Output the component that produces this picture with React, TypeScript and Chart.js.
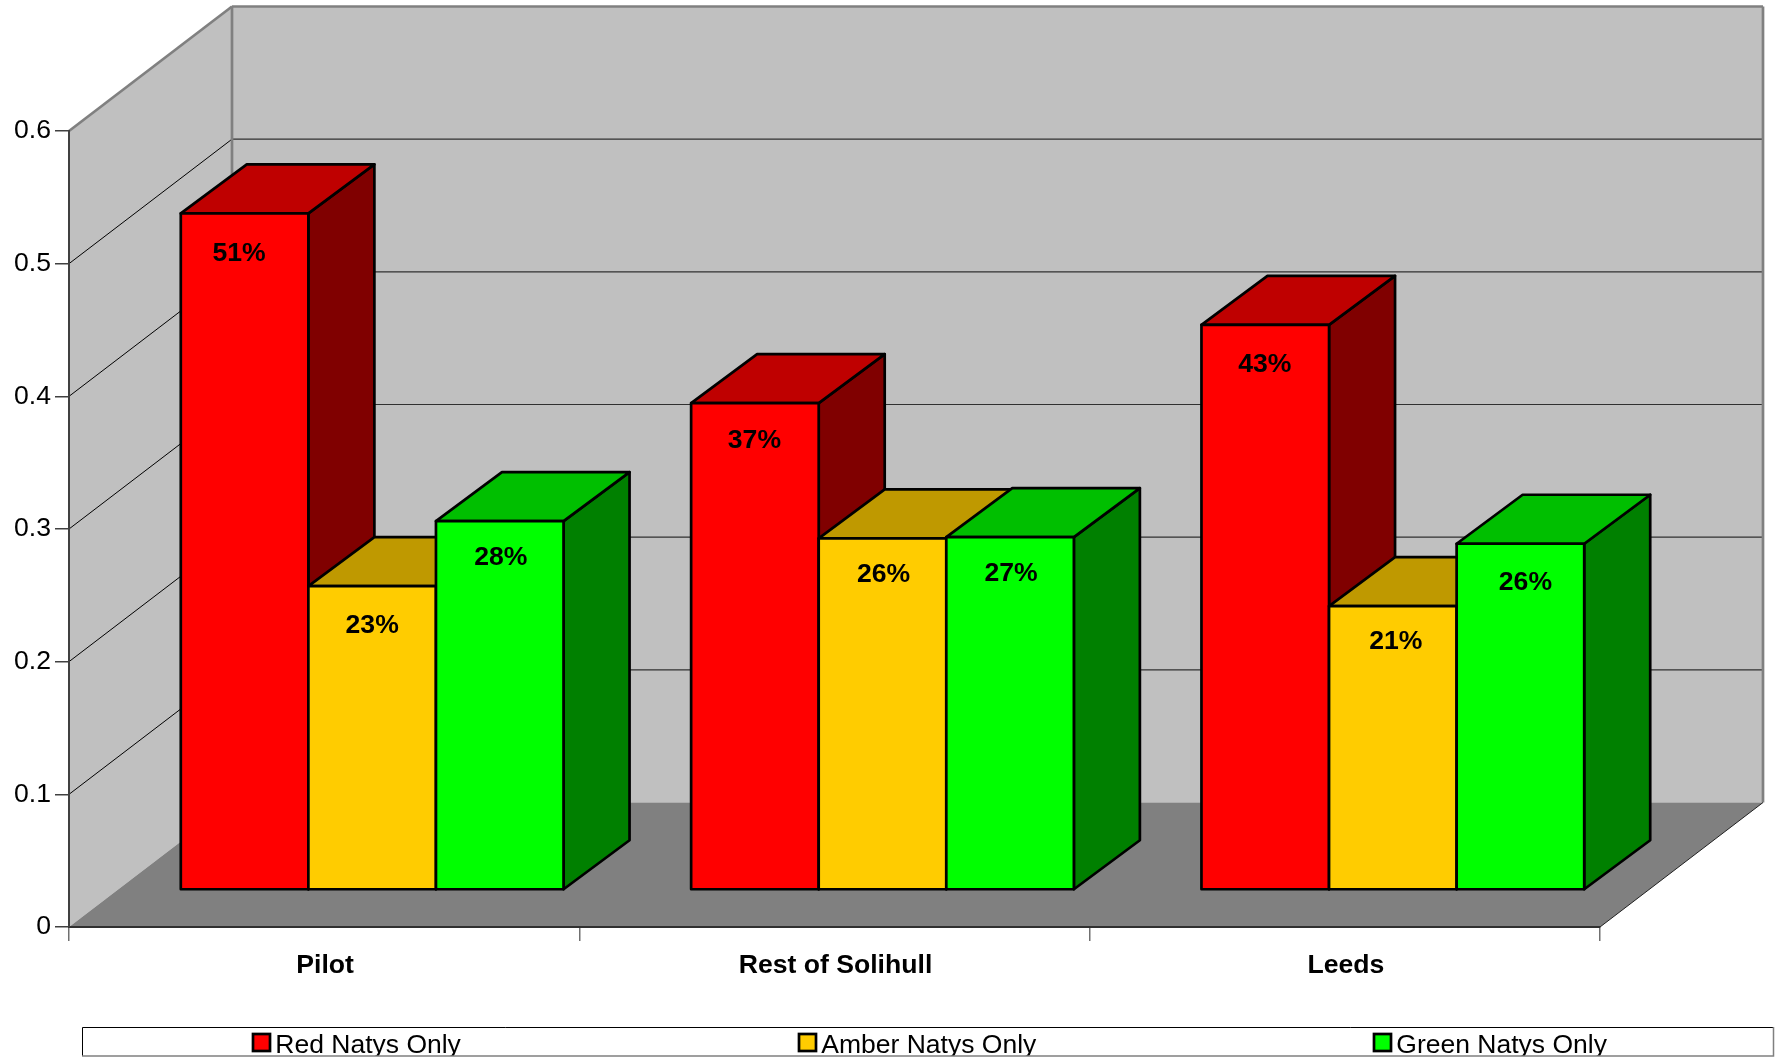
import React, { useEffect, useRef } from "react";
import Chart from "chart.js/auto";

const categories = ["Pilot", "Rest of Solihull", "Leeds"];
const seriesNames = ["Red Natys Only", "Amber Natys Only", "Green Natys Only"];
const redValues = [0.51, 0.367, 0.426];
const amberValues = [0.229, 0.265, 0.214];
const greenValues = [0.278, 0.266, 0.261];
const redLabels = ["51%", "37%", "43%"];
const amberLabels = ["23%", "26%", "21%"];
const greenLabels = ["28%", "27%", "26%"];
const yTickLabels = ["0", "0.1", "0.2", "0.3", "0.4", "0.5", "0.6"];

const W = 1775;
const H = 1061;
const FONT = '"Liberation Sans", Arial, sans-serif';
const FONT_SIZE = 26.6;
const WALL_DX = 163;
const WALL_DY = 124.5;
const BAR_SHIFT_X = 48;
const BAR_SHIFT_Y = 37;
const BAR_DX = 66;
const BAR_DY = 49;
const EDGE = 2.7;
const FRONT = ["#FF0000", "#FFCC00", "#00FF00"];
const TOP = ["#BF0000", "#BF9900", "#00BF00"];
const SIDE = ["#800000", "#806600", "#008000"];
const LABELS = [redLabels, amberLabels, greenLabels];
const LABEL_DROP = 39;
// Small per-label placement corrections, in pixels: [dx, dy] by series, then by category.
const LABEL_NUDGE = [
  [[-5.5, 1], [-0.5, -1], [-0.5, 1]],
  [[0, 0], [1, -3], [3, -3]],
  [[1, -2.5], [1, -2], [5, 0]],
];
const LEGEND_BOX = { x: 82, y: 1027, w: 1692, h: 29 };
const LEGEND_X = [252, 798, 1373];

function poly(ctx: CanvasRenderingContext2D, pts: number[][], fill: string | null, stroke: string | null, lw = 1) {
  ctx.beginPath();
  pts.forEach((p, i) => (i ? ctx.lineTo(p[0], p[1]) : ctx.moveTo(p[0], p[1])));
  ctx.closePath();
  if (fill) {
    ctx.fillStyle = fill;
    ctx.fill();
  }
  if (stroke) {
    ctx.strokeStyle = stroke;
    ctx.lineWidth = lw;
    ctx.lineJoin = "round";
    ctx.stroke();
  }
}

function line(ctx: CanvasRenderingContext2D, x1: number, y1: number, x2: number, y2: number, color: string, lw: number) {
  ctx.beginPath();
  ctx.moveTo(x1, y1);
  ctx.lineTo(x2, y2);
  ctx.strokeStyle = color;
  ctx.lineWidth = lw;
  ctx.stroke();
}

const box3d = {
  id: "box3d",
  beforeDraw(chart: any) {
    const { ctx, chartArea: a, scales } = chart;
    const y = scales.y;
    const L = a.left, R = a.right, T = a.top, B = a.bottom;
    ctx.save();
    poly(ctx, [[L + WALL_DX, T - WALL_DY], [R + WALL_DX, T - WALL_DY], [R + WALL_DX, B - WALL_DY], [L + WALL_DX, B - WALL_DY]], "#C0C0C0", null);
    poly(ctx, [[L, T], [L + WALL_DX, T - WALL_DY], [L + WALL_DX, B - WALL_DY], [L, B]], "#C0C0C0", null);
    poly(ctx, [[L, B], [L + WALL_DX, B - WALL_DY], [R + WALL_DX, B - WALL_DY], [R, B]], "#808080", null);
    yTickLabels.forEach((_, i) => {
      if (i === 0 || i === yTickLabels.length - 1) return;
      const py = y.getPixelForValue(i / 10);
      line(ctx, L, py, L + WALL_DX, py - WALL_DY, "#000000", 1);
      line(ctx, L + WALL_DX, py - WALL_DY, R + WALL_DX, py - WALL_DY, "#303030", 1.2);
    });
    line(ctx, L, T, L + WALL_DX, T - WALL_DY, "#808080", 2.7);
    line(ctx, L + WALL_DX, T - WALL_DY, R + WALL_DX, T - WALL_DY, "#808080", 2.7);
    line(ctx, L + WALL_DX, T - WALL_DY, L + WALL_DX, B - WALL_DY, "#808080", 2.7);
    line(ctx, R + WALL_DX, T - WALL_DY, R + WALL_DX, B - WALL_DY, "#808080", 2.7);
    line(ctx, R, B, R + WALL_DX, B - WALL_DY, "#202020", 1);
    ctx.restore();
  },
  // Bars are painted left to right below, so the default back-to-front pass is skipped.
  beforeDatasetDraw() {
    return false;
  },
  afterDatasetsDraw(chart: any) {
    const ctx = chart.ctx;
    ctx.save();
    ctx.translate(BAR_SHIFT_X, -BAR_SHIFT_Y);
    chart.data.datasets.forEach((_: any, di: number) => {
      chart.getDatasetMeta(di).data.forEach((bar: any) => {
        const l = bar.x - bar.width / 2;
        const r = bar.x + bar.width / 2;
        const t = bar.y;
        const b = bar.base;
        poly(ctx, [[r, t], [r + BAR_DX, t - BAR_DY], [r + BAR_DX, b - BAR_DY], [r, b]], SIDE[di], "#000000", EDGE);
        poly(ctx, [[l, t], [l + BAR_DX, t - BAR_DY], [r + BAR_DX, t - BAR_DY], [r, t]], TOP[di], "#000000", EDGE);
        bar.draw(ctx);
        poly(ctx, [[l, t], [r, t], [r, b], [l, b]], null, "#000000", EDGE);
      });
    });
    ctx.font = `bold ${FONT_SIZE}px ${FONT}`;
    ctx.fillStyle = "#000000";
    ctx.textAlign = "center";
    ctx.textBaseline = "middle";
    chart.data.datasets.forEach((_: any, di: number) => {
      chart.getDatasetMeta(di).data.forEach((bar: any, i: number) => {
        const n = LABEL_NUDGE[di][i];
        ctx.fillText(LABELS[di][i], bar.x + n[0], bar.y + LABEL_DROP + n[1]);
      });
    });
    ctx.restore();
  },
  afterDraw(chart: any) {
    const ctx = chart.ctx;
    const g = LEGEND_BOX;
    ctx.save();
    ctx.fillStyle = "#FFFFFF";
    ctx.fillRect(g.x, g.y, g.w, g.h);
    ctx.beginPath();
    ctx.rect(g.x, g.y, g.w, g.h);
    ctx.clip();
    ctx.font = `26.5px ${FONT}`;
    ctx.textAlign = "left";
    ctx.textBaseline = "alphabetic";
    seriesNames.forEach((name, i) => {
      const x = LEGEND_X[i];
      ctx.fillStyle = FRONT[i];
      ctx.fillRect(x + 1, g.y + 7, 17, 17);
      ctx.strokeStyle = "#000000";
      ctx.lineWidth = EDGE;
      ctx.strokeRect(x + 1, g.y + 7, 17, 17);
      ctx.fillStyle = "#000000";
      ctx.fillText(name, x + 23.3, g.y + 25.5);
    });
    ctx.restore();
    ctx.strokeStyle = "#000000";
    ctx.lineWidth = 1;
    ctx.beginPath();
    ctx.moveTo(g.x + 0.5, g.y + g.h);
    ctx.lineTo(g.x + 0.5, g.y + 0.5);
    ctx.lineTo(g.x + g.w - 0.5, g.y + 0.5);
    ctx.stroke();
    ctx.strokeStyle = "#808080";
    ctx.lineWidth = 1.5;
    ctx.beginPath();
    ctx.moveTo(g.x, g.y + g.h);
    ctx.lineTo(g.x + g.w - 0.5, g.y + g.h);
    ctx.lineTo(g.x + g.w - 0.5, g.y);
    ctx.stroke();
  },
};

export default function App() {
  const ref = useRef<HTMLCanvasElement | null>(null);
  useEffect(() => {
    if (!ref.current) return;
    const values = [redValues, amberValues, greenValues];
    const chart = new Chart(ref.current, {
      type: "bar",
      data: {
        labels: categories,
        datasets: seriesNames.map((label, i) => ({
          label,
          data: values[i],
          backgroundColor: FRONT[i],
          borderWidth: 0,
          categoryPercentage: 0.75,
          barPercentage: 1,
        })),
      },
      options: {
        animation: false,
        responsive: false,
        events: [],
        layout: { padding: { top: 131, right: 175, left: 0, bottom: 0 } },
        plugins: { legend: { display: false }, tooltip: { enabled: false } },
        scales: {
          x: {
            afterFit: (s: any) => {
              s.height = 134;
            },
            border: { display: true, color: "#303030", width: 2 },
            grid: { display: true, drawOnChartArea: false, tickLength: 14, color: "#707070", lineWidth: 1.5 },
            ticks: { color: "#000000", padding: 9, labelOffset: 1, font: { family: FONT, size: FONT_SIZE, weight: "bold" }, maxRotation: 0 },
          },
          y: {
            min: 0,
            max: 0.6,
            afterFit: (s: any) => {
              s.width = 69;
            },
            border: { display: true, color: "#404040", width: 2 },
            grid: { display: true, drawOnChartArea: false, tickLength: 14, color: "#404040", lineWidth: 1.5 },
            ticks: {
              stepSize: 0.1,
              color: "#000000",
              padding: 4,
              font: { family: FONT, size: FONT_SIZE },
              callback: (_v: any, i: number) => yTickLabels[i],
            },
          },
        },
      },
      plugins: [box3d],
    } as any);
    return () => chart.destroy();
  }, []);
  return (
    <canvas
      ref={ref}
      width={W}
      height={H}
      style={{ position: "fixed", left: 0, top: 0, width: W, height: H, background: "#FFFFFF" }}
    />
  );
}
